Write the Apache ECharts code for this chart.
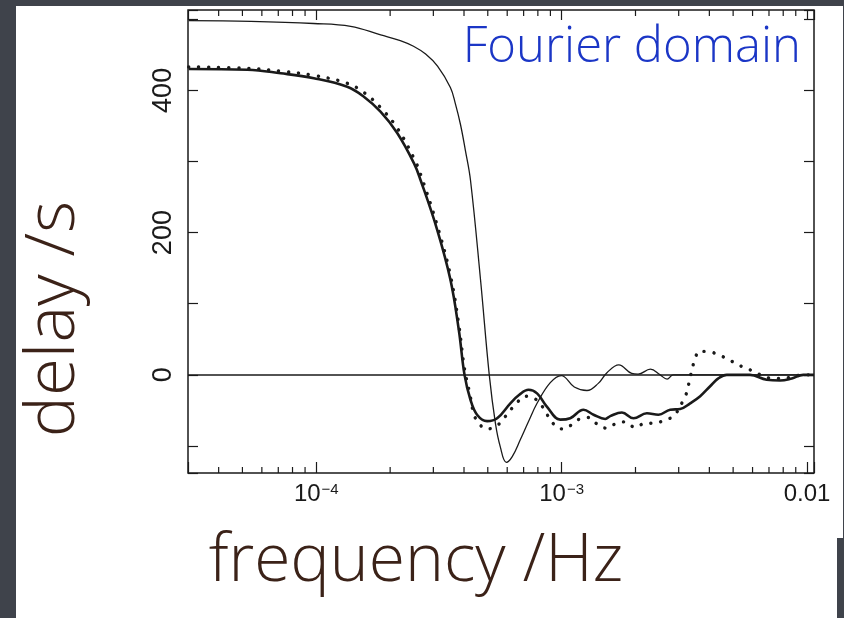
<!DOCTYPE html>
<html>
<head>
<meta charset="utf-8">
<script src="https://cdn.jsdelivr.net/npm/echarts@6/dist/echarts.min.js"></script>
<style>
html,body{margin:0;padding:0;background:#3f434b;}
#chart{width:844px;height:618px;}
</style>
</head>
<body>
<div id="chart"></div>
<script>
// ---- data ----
const FREQ_THIN = [3.02e-5, 5.41e-5, 9.75e-5, 1.38e-4, 1.83e-4, 2.20e-4, 2.49e-4, 2.79e-4, 3.12e-4, 3.52e-4, 3.69e-4, 3.87e-4, 4.05e-4, 4.25e-4, 4.67e-4, 5.07e-4, 5.37e-4, 5.62e-4, 5.95e-4, 6.29e-4, 6.79e-4, 7.32e-4, 7.94e-4, 8.99e-4, 9.97e-4, 1.126e-3, 1.268e-3, 1.41e-3, 1.53e-3, 1.71e-3, 1.93e-3, 2.05e-3, 2.30e-3, 2.52e-3, 2.69e-3, 2.85e-3, 3.67e-3, 1.068e-2];
const DELAY_THIN = [498, 497, 494, 490, 478, 470, 462, 451, 434, 404, 381, 352, 316, 274, 134, 0, -68, -101, -123, -115, -91, -66, -40, -11, -1, -17, -22, -12, 3, 14, 2, 1, 8, 0, -6, 0, 0, 0];

const FREQ_THICK = [3.02e-5, 5.24e-5, 7.16e-5, 9.77e-5, 1.337e-4, 1.563e-4, 1.827e-4, 2.137e-4, 2.497e-4, 2.66e-4, 3.11e-4, 3.52e-4, 3.81e-4, 4.02e-4, 4.25e-4, 4.52e-4, 4.97e-4, 5.46e-4, 6.18e-4, 6.72e-4, 7.33e-4, 7.94e-4, 8.72e-4, 9.87e-4, 1.084e-3, 1.228e-3, 1.349e-3, 1.506e-3, 1.578e-3, 1.761e-3, 1.963e-3, 2.226e-3, 2.48e-3, 2.77e-3, 3.04e-3, 3.34e-3, 3.67e-3, 4.03e-3, 4.35e-3, 4.71e-3, 5.86e-3, 6.85e-3, 7.77e-3, 8.67e-3, 9.66e-3, 1.068e-2];
const DELAY_THICK = [430, 429, 424, 417, 405, 391, 370, 340, 298, 274, 204, 134, 63, 0, -35, -56, -65, -61, -40, -28, -21, -26, -45, -63, -61, -49, -56, -62, -58, -53, -61, -54, -56, -49, -48, -40, -30, -16, -5, 0, 0, -7, -8, -5, 0, 0];

const FREQ_DOT = [3.02e-5, 5.24e-5, 7.16e-5, 9.77e-5, 1.337e-4, 1.563e-4, 1.827e-4, 2.137e-4, 2.497e-4, 2.66e-4, 3.11e-4, 3.52e-4, 3.81e-4, 4.02e-4, 4.22e-4, 4.38e-4, 4.59e-4, 4.97e-4, 5.42e-4, 5.81e-4, 6.58e-4, 7.11e-4, 7.81e-4, 8.32e-4, 9.22e-4, 1.003e-3, 1.102e-3, 1.184e-3, 1.288e-3, 1.393e-3, 1.52e-3, 1.653e-3, 1.816e-3, 1.995e-3, 2.19e-3, 2.41e-3, 2.64e-3, 2.86e-3, 3.14e-3, 3.26e-3, 3.32e-3, 3.39e-3, 3.48e-3, 3.65e-3, 3.96e-3, 4.35e-3, 4.78e-3, 5.17e-3, 5.68e-3, 6.14e-3, 6.64e-3, 7.29e-3, 8.01e-3, 8.67e-3, 9.66e-3, 1.068e-2];
const DELAY_DOT = [433, 431, 427, 421, 410, 397, 376, 347, 305, 282, 210, 140, 70, 8, -26, -54, -68, -76, -72, -61, -39, -30, -34, -44, -68, -76, -70, -62, -60, -69, -75, -69, -66, -74, -68, -68, -63, -58, -35, -21, -6, 5, 20, 33, 33, 28, 22, 15, 9, 4, -2, -5, -5, -3, 0, 0];

// axis ranges and tick labels
const X_MIN = 3.0e-5, X_MAX = 1.068e-2;
const Y_MIN = -138, Y_MAX = 513;
const X_LABEL_EXP = [-4, -3, -2];
const X_LABEL_TEXT = ['{a|10}{b|\u22124}', '{a|10}{b|\u22123}', '0.01'];
const X_MINOR_TICKS = [4e-5, 5e-5, 6e-5, 7e-5, 8e-5, 9e-5, 2e-4, 3e-4, 4e-4, 5e-4, 6e-4, 7e-4, 8e-4, 9e-4, 2e-3, 3e-3, 4e-3, 5e-3, 6e-3, 7e-3, 8e-3, 9e-3];
const Y_LABELS = [0, 200, 400];

const INK = '#1a1a1a';
const NUM_FONT = '"Liberation Sans", Arial, Helvetica, sans-serif';
const HAND_FONT = '"Open Sans", "Lato", sans-serif';

const pairs = (xs, ys) => xs.map((x, i) => [x, ys[i]]);

const chart = echarts.init(document.getElementById('chart'), null, {renderer: 'canvas'});

const xLabelFmt = v => {
  const L = Math.log10(v);
  const r = Math.round(L);
  if (Math.abs(L - r) > 1e-6) return '';
  const i = X_LABEL_EXP.indexOf(r);
  return i >= 0 ? X_LABEL_TEXT[i] : '';
};
const yLabelFmt = v => (Y_LABELS.indexOf(Math.round(v)) >= 0 && Math.abs(v - Math.round(v)) < 1e-6) ? String(Math.round(v)) : '';

const baseX = {
  type: 'log', logBase: 10, min: X_MIN, max: X_MAX,
  axisLine: {show: false, onZero: false},
  splitLine: {show: false},
  axisTick: {show: true, inside: true, length: 11, lineStyle: {color: INK, width: 1.2}}
};
const baseY = {
  type: 'value', min: Y_MIN, max: Y_MAX, minInterval: 100, maxInterval: 100,
  axisLine: {show: false, onZero: false},
  splitLine: {show: false},
  axisTick: {show: true, inside: true, length: 10, lineStyle: {color: INK, width: 1.2}}
};

chart.setOption({
  animation: false,
  backgroundColor: '#3f434b',
  graphic: {
    elements: [
      {type: 'rect', z: -100, shape: {x: 16, y: 6, width: 827, height: 612}, style: {fill: '#ffffff'}},
      {type: 'rect', z: -99, shape: {x: 837, y: 538, width: 7, height: 80}, style: {fill: '#3f434b'}},
      {type: 'text', z: 100, x: 801, y: 48,
        style: {text: 'Fourier domain', fill: '#1b36c6', font: '300 49px ' + HAND_FONT, textAlign: 'right', textVerticalAlign: 'middle'}},
      {type: 'text', z: 100, x: 416, y: 562,
        style: {text: 'frequency /Hz', fill: '#3b2218', font: '300 66px ' + HAND_FONT, textAlign: 'center', textVerticalAlign: 'middle'}},
      {type: 'text', z: 100, x: 54, y: 319, rotation: Math.PI / 2,
        style: {text: 'delay /s', fill: '#3b2218', font: '300 69px ' + HAND_FONT, textAlign: 'center', textVerticalAlign: 'middle'}}
    ]
  },
  grid: {left: 188, right: 30, top: 10, bottom: 145, show: true, borderColor: INK, borderWidth: 1.5, backgroundColor: 'transparent'},
  xAxis: [
    Object.assign({}, baseX, {
      position: 'bottom',
      axisLabel: {
        show: true, margin: 9, color: INK, fontSize: 24, fontFamily: NUM_FONT, formatter: xLabelFmt,
        rich: {
          a: {fontSize: 24, fontFamily: NUM_FONT, color: INK},
          b: {fontSize: 15, fontFamily: NUM_FONT, color: INK, padding: [0, 0, 10, 1]}
        }
      }
    }),
    Object.assign({}, baseX, {position: 'top', axisLabel: {show: false}, axisTick: {show: true, inside: true, length: 10, lineStyle: {color: INK, width: 1.2}}})
  ],
  yAxis: [
    Object.assign({}, baseY, {
      position: 'left',
      axisLabel: {show: true, rotate: 90, margin: 11, color: INK, fontSize: 27, fontFamily: NUM_FONT, formatter: yLabelFmt}
    }),
    Object.assign({}, baseY, {position: 'right', axisLabel: {show: false}})
  ],
  series: [
    {
      name: 'thin', type: 'line', xAxisIndex: 0, yAxisIndex: 0, data: pairs(FREQ_THIN, DELAY_THIN),
      showSymbol: false, smooth: 0.4, lineStyle: {color: INK, width: 1.3}, z: 3
    },
    {
      name: 'thick', type: 'line', xAxisIndex: 0, yAxisIndex: 0, data: pairs(FREQ_THICK, DELAY_THICK),
      showSymbol: false, smooth: 0.4, lineStyle: {color: INK, width: 2.6}, z: 4,
      markLine: {silent: true, symbol: 'none', label: {show: false}, animation: false,
        lineStyle: {color: INK, width: 1.6, type: 'solid'}, data: [{yAxis: 0}]}
    },
    {
      name: 'dotted', type: 'line', xAxisIndex: 0, yAxisIndex: 0, data: pairs(FREQ_DOT, DELAY_DOT),
      showSymbol: false, smooth: 0.4, lineStyle: {color: INK, width: 3.4, type: [0.1, 9.9], cap: 'round'}, z: 5
    },
    {
      name: 'minorTicks', type: 'custom', xAxisIndex: 0, yAxisIndex: 0, silent: true, clip: false, z: 6,
      data: X_MINOR_TICKS.map(v => [v, Y_MIN]),
      encode: {x: 0, y: 1},
      renderItem: (params, api) => {
        const v = api.value(0);
        const pb = api.coord([v, Y_MIN]);
        const pt = api.coord([v, Y_MAX]);
        const st = {stroke: INK, lineWidth: 1.2};
        return {type: 'group', children: [
          {type: 'line', shape: {x1: pb[0], y1: pb[1], x2: pb[0], y2: pb[1] - 6}, style: st},
          {type: 'line', shape: {x1: pt[0], y1: pt[1], x2: pt[0], y2: pt[1] + 6}, style: st}
        ]};
      }
    }
  ]
});
</script>
</body>
</html>
